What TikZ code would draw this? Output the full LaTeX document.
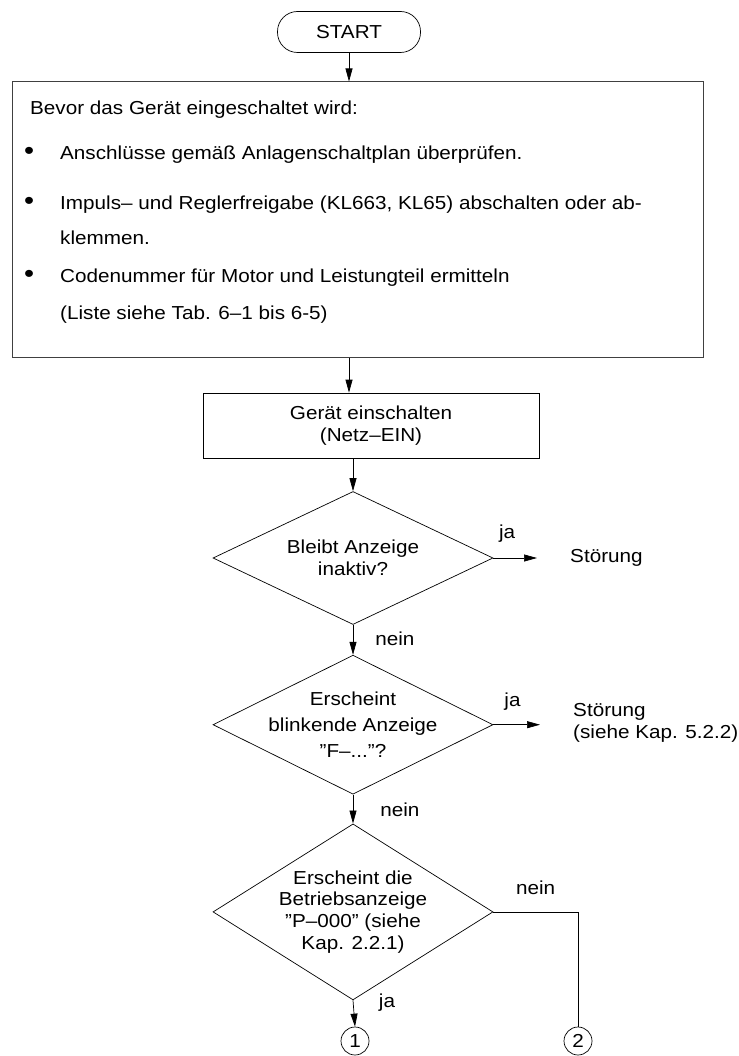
\documentclass[tikz,border=0pt]{standalone}
\usepackage{fontspec}
\setmainfont{Liberation Sans}[FakeStretch=1.1]
\usetikzlibrary{arrows.meta,positioning,shapes.geometric}
\tikzset{
  terminal/.style={draw, line width=0.7pt, rounded corners=20pt,
    minimum width=143pt, minimum height=41pt, inner sep=0pt},
  notebox/.style={draw=black!75, line width=1pt, minimum width=691pt,
    minimum height=275pt, inner sep=0pt},
  process/.style={draw, line width=0.7pt, align=center,
    minimum width=336pt, minimum height=65pt, inner sep=0pt},
  decision/.style={draw, diamond, line width=0.7pt, align=center,
    minimum width=280pt, inner xsep=-40pt, inner ysep=-20pt},
  connector/.style={draw, circle, line width=0.7pt, minimum size=28pt, inner sep=0pt},
  notetext/.style={anchor=base west, inner sep=0pt},
  bulletmark/.style={anchor=base west, inner sep=0pt, font=\fontsize{26pt}{26pt}\selectfont},
  answer/.style={anchor=base, inner sep=0pt},
  sideanswer/.style={anchor=base west, inner sep=0pt},
  result/.style={anchor=west, align=left, inner sep=0pt},
  wire/.style={-{Triangle[length=13pt,width=7pt]}, line width=0.7pt},
  plainwire/.style={line width=0.7pt}
}

\begin{document}
\begin{tikzpicture}[x=1pt, y=-1pt, font=\fontsize{18.8pt}{21.7pt}\selectfont]
  \useasboundingbox (0,0) rectangle (738,1056);
  \node[terminal] (start) at (349,32) {START};
  \node[notebox] (note) at (357.5,219.5) {};
  \node[notetext] (before) at (30,115) {Bevor das Gerät eingeschaltet wird:};
  \node[bulletmark] (dot1) at (24,160) {\textbullet};
  \node[notetext] (check) at (60,160) {Anschlüsse gemäß Anlagenschaltplan überprüfen.};
  \node[bulletmark] (dot2) at (24,210) {\textbullet};
  \node[notetext] (enable) at (60,210) {Impuls-- und Reglerfreigabe (KL663, KL65) abschalten oder ab-};
  \node[notetext] (enable2) at (60,245) {klemmen.};
  \node[bulletmark] (dot3) at (24,283) {\textbullet};
  \node[notetext] (code) at (60,283) {Codenummer für Motor und Leistungteil ermitteln};
  \node[notetext] (code2) at (60,319) {(Liste siehe Tab. 6--1 bis 6-5)};
  \node[process] (power) at (371,425.5) {Gerät einschalten\\(Netz--EIN)};
  \node[decision, minimum height=133pt] (q1) at (353,558) {Bleibt Anzeige\\inaktiv?};
  \node[decision, minimum height=139pt, below=30pt of q1,
    font=\fontsize{18.8pt}{26pt}\selectfont] (q2) {Erscheint\\blinkende Anzeige\\''F--...''?};
  \node[decision, minimum height=176pt, below=29pt of q2] (q3)
    {Erscheint die\\Betriebsanzeige\\''P--000'' (siehe\\Kap. 2.2.1)};
  \node[result] (fault1) at (570,558) {Störung};
  \node[result] (fault2) at (573,723) {Störung\\(siehe Kap. 5.2.2)};
  \node[connector] (link1) at (355,1041) {1};
  \node[connector] (link2) at (578,1041) {2};

  \draw[wire] (start.south) -- (start.south |- note.north);
  \draw[wire] (start.south |- note.south) -- (start.south |- power.north);
  \draw[wire] (q1.north |- power.south) -- (q1.north);
  \draw[wire, shorten >=33pt] (q1.east) -- (fault1.west)
    node[answer, pos=0.18, yshift=20pt] (yes1) {ja};
  \draw[wire] (q1.south) -- (q2.north)
    node[sideanswer, pos=0.5, xshift=22pt, yshift=-6pt] (no1) {nein};
  \draw[wire, shorten >=33pt] (q2.east) -- (q2.east -| fault2.west)
    node[answer, pos=0.24, yshift=18pt] (yes2) {ja};
  \draw[wire] (q2.south) -- (q3.north)
    node[sideanswer, pos=0.5, xshift=27pt, yshift=-7pt] (no2) {nein};
  \draw[wire] (q3.south) -- (link1.north)
    node[sideanswer, pos=0.28, xshift=25pt] (yes3) {ja};
  \draw[plainwire] (q3.east) -| (link2.north)
    node[answer, pos=0.25, yshift=17pt] (no3) {nein};
\end{tikzpicture}
\end{document}
